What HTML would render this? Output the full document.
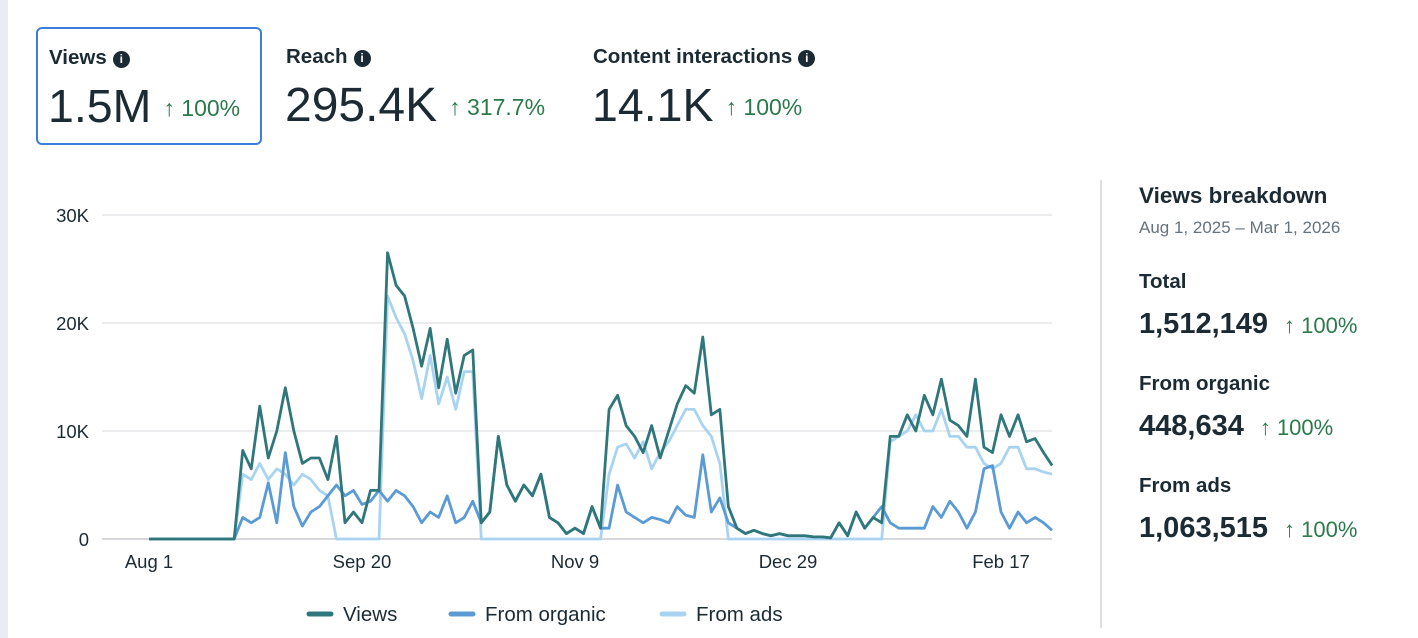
<!DOCTYPE html>
<html><head><meta charset="utf-8">
<style>
body{margin:0;width:1418px;height:638px;background:#fff;font-family:"Liberation Sans",sans-serif;color:#1c2b33;position:relative;overflow:hidden}
.strip{position:absolute;left:0;top:0;width:8px;height:638px;background:#e9ebf5}
.card{position:absolute;top:28px;height:114px}
.card .t{position:absolute;left:11px;top:17px;font-size:20.5px;font-weight:bold;white-space:nowrap}
.card .v{position:absolute;left:10px;top:50px;font-size:46.5px;white-space:nowrap}
.card .v span{font-size:23px;color:#2b7a4b;margin-left:12px;vertical-align:6px}
.info{display:inline-block;width:17px;height:17px;border-radius:50%;background:#1c2b33;color:#fff;font-size:12px;line-height:17px;text-align:center;vertical-align:1px;margin-left:6px;font-weight:bold}
.rp{position:absolute;left:1139px;white-space:nowrap}
.up{color:#2b7a4b;font-weight:normal;font-size:22px;margin-left:16px}
</style></head><body>
<div class="strip"></div>
<div class="card" style="left:36px;width:222px;border:2px solid #3b7dd8;border-radius:6px;top:27px">
 <div class="t">Views<span class="info">i</span></div>
 <div class="v">1.5M<span>↑ 100%</span></div>
</div>
<div class="card" style="left:275px;width:300px">
 <div class="t">Reach<span class="info">i</span></div>
 <div class="v" style="font-size:48px">295.4K<span>↑ 317.7%</span></div>
</div>
<div class="card" style="left:582px;width:300px">
 <div class="t">Content interactions<span class="info">i</span></div>
 <div class="v">14.1K<span>↑ 100%</span></div>
</div>

<svg id="chart" style="position:absolute;left:0;top:0" width="1090" height="638"></svg>

<div style="position:absolute;left:1100px;top:180px;width:2px;height:448px;background:#dcdfe3"></div>
<div class="rp" style="top:183px;font-size:22.5px;font-weight:bold">Views breakdown</div>
<div class="rp" style="top:218px;font-size:17px;color:#65737e">Aug 1, 2025 – Mar 1, 2026</div>
<div class="rp" style="top:270px;font-size:20.5px;font-weight:bold">Total</div>
<div class="rp" style="top:308px;font-size:29px;font-weight:bold">1,512,149<span class="up">↑ 100%</span></div>
<div class="rp" style="top:372px;font-size:20.5px;font-weight:bold">From organic</div>
<div class="rp" style="top:410px;font-size:29px;font-weight:bold">448,634<span class="up">↑ 100%</span></div>
<div class="rp" style="top:474px;font-size:20.5px;font-weight:bold">From ads</div>
<div class="rp" style="top:512px;font-size:29px;font-weight:bold">1,063,515<span class="up">↑ 100%</span></div>

<script>
const yTicks=[0,10,20,30];
const yTickLabels=["0","10K","20K","30K"];
const xTickDays=[0,50,100,150,200];
const xTickLabels=["Aug 1","Sep 20","Nov 9","Dec 29","Feb 17"];
const seriesNames=["Views","From organic","From ads"];
const views=[0,0,0,0,0,0,0,0,0,0,0,8.2,6.5,12.3,7.5,10,14,10,7,7.5,7.5,5.5,9.5,1.5,2.5,1.5,4.5,4.5,26.5,23.5,22.5,19.5,16,19.5,14,18.5,13.5,17,17.5,1.5,2.5,9.5,5,3.5,5,4,6,2,1.5,0.5,1,0.5,3,1,12,13.3,10.5,9.5,8,10.5,7.5,10,12.5,14.2,13.5,18.7,11.5,12,3,1,0.5,0.8,0.5,0.3,0.5,0.3,0.3,0.3,0.2,0.2,0.1,1.5,0.3,2.5,1,2,1.5,9.5,9.5,11.5,10,13.3,11.5,14.8,11,10.5,9.5,14.8,8.5,8,11.5,9.5,11.5,9,9.3,8,6.8];
const organic=[0,0,0,0,0,0,0,0,0,0,0,2,1.5,2,5.2,1.5,8,3,1.2,2.5,3,4,5,4,4.5,3.2,3.5,4.5,3.5,4.5,4,3,1.5,2.5,2,4,1.5,2,3.5,1.5,2.5,9.5,5,3.5,5,4,6,2,1.5,0.5,1,0.5,3,1,1,5,2.5,2,1.5,2,1.8,1.5,3,2.2,2,7.8,2.5,3.8,1.5,1,0.5,0.8,0.5,0.3,0.5,0.3,0.3,0.3,0.2,0.2,0.1,1.5,0.3,2.5,1,2,3,1.5,1,1,1,1,3,2,3.5,2.5,1,2.5,6.5,6.8,2.5,1,2.5,1.5,2,1.5,0.8];
const ads=[0,0,0,0,0,0,0,0,0,0,0,6,5.5,7,5.5,6.5,6,5,6,5.5,4.5,4,0,0,0,0,0,0,22.5,20.5,19,16.5,13,17,12.5,15,12,15.5,15.5,0,0,0,0,0,0,0,0,0,0,0,0,0,0,0,6,8.5,8.8,7.5,9,6.5,8,9,10.5,12,12,10.5,9.5,7,0,0,0,0,0,0,0,0,0,0,0,0,0,0,0,0,0,0,0,9,9.5,10,11.5,10,10,12,9.5,9.5,8.5,8.5,7,6.5,7,8.5,8.5,6.5,6.5,6.2,6];
const colors=["#2f777a","#5b9bd5","#a8d4f2"];

const svg=document.getElementById('chart');
const NS='http://www.w3.org/2000/svg';
const x0=149,dayPx=4.26,xStep=8.52,y0=539,yScale=10.8;
const X=i=>x0+i*xStep, Y=v=>y0-v*yScale, XD=d=>x0+d*dayPx;
function mk(tag,attrs){const e=document.createElementNS(NS,tag);for(const k in attrs)e.setAttribute(k,attrs[k]);svg.appendChild(e);return e;}
yTicks.forEach((t,k)=>{
 const g=mk('line',{x1:102,x2:1052,y1:Y(t),y2:Y(t),stroke:t===0?'#c9ccd1':'#dfe1e4','stroke-width':t===0?1.5:1.2});
 
 
 const l=mk('text',{x:89,y:Y(t)+7,'text-anchor':'end','font-size':18.5,fill:'#1c2b33'});
 l.textContent=yTickLabels[k];
 
 
});
xTickDays.forEach((d,k)=>{
 const l=mk('text',{x:XD(d),y:568,'text-anchor':'middle','font-size':18.5,fill:'#1c2b33'});
 l.textContent=xTickLabels[k];
 
 
});
[[ads,2],[organic,1],[views,0]].forEach(([arr,c])=>{
 const p=mk('polyline',{points:arr.map((v,i)=>X(i)+','+Y(v)).join(' '),fill:'none',stroke:colors[c],'stroke-width':2.8,'stroke-linejoin':'round'});
 
 
});
const legX=[309,451,662];
seriesNames.forEach((n,k)=>{
 const s=mk('line',{x1:legX[k],x2:legX[k]+22,y1:614,y2:614,stroke:colors[k],'stroke-width':5,'stroke-linecap':'round'});
 
 
 const t=mk('text',{x:legX[k]+34,y:621,'font-size':20.5,fill:'#1c2b33'});
 t.textContent=n;
 
 
});
</script>
</body></html>
